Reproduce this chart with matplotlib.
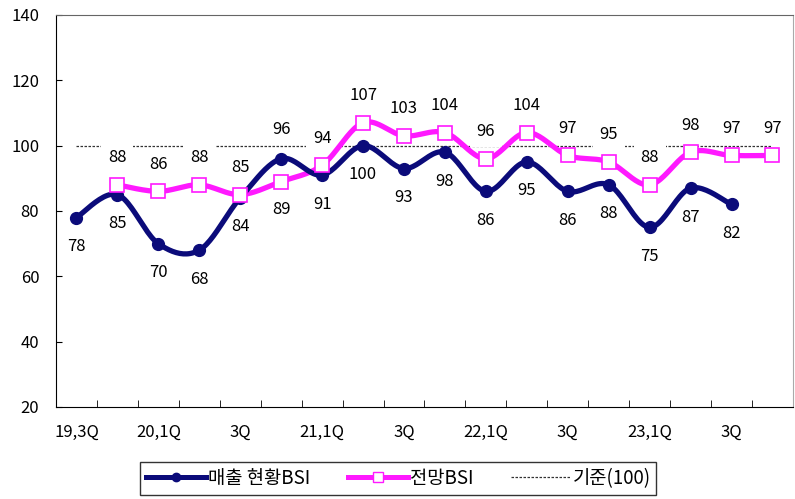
import numpy as np
import matplotlib.pyplot as plt
from matplotlib.lines import Line2D

plt.rcParams['font.family'] = ['Noto Sans CJK KR', 'DejaVu Sans']

quarters = ['19,3Q', '19,4Q', '20,1Q', '20,2Q', '3Q', '20,4Q', '21,1Q', '21,2Q', '3Q',
            '21,4Q', '22,1Q', '22,2Q', '3Q', '22,4Q', '23,1Q', '23,2Q', '3Q', '23,4Q']
sales_bsi = [78, 85, 70, 68, 84, 96, 91, 100, 93, 98, 86, 95, 86, 88, 75, 87, 82]
outlook_bsi = [88, 86, 88, 85, 89, 94, 107, 103, 104, 96, 104, 97, 95, 88, 98, 97, 97]
baseline = 100

sales_x = np.arange(len(sales_bsi))
outlook_x = np.arange(1, 1 + len(outlook_bsi))

NAVY = '#0b0b7a'
PINK = '#ff19ff'


def smooth(x, y, steps=24):
    # bezier curve through every point, control points from the neighbours
    x = np.asarray(x, float)
    y = np.asarray(y, float)
    px = np.concatenate([[x[0]], x, [x[-1]]])
    py = np.concatenate([[y[0]], y, [y[-1]]])
    xs, ys = [], []
    t = np.linspace(0, 1, steps)
    for i in range(1, len(px) - 2):
        p0 = np.array([px[i], py[i]])
        p3 = np.array([px[i + 1], py[i + 1]])
        p1 = p0 + (np.array([px[i + 1], py[i + 1]]) - np.array([px[i - 1], py[i - 1]])) / 6
        p2 = p3 - (np.array([px[i + 2], py[i + 2]]) - np.array([px[i], py[i]])) / 6
        b = ((1 - t) ** 3)[:, None] * p0 + (3 * (1 - t) ** 2 * t)[:, None] * p1 \
            + (3 * (1 - t) * t ** 2)[:, None] * p2 + (t ** 3)[:, None] * p3
        xs.extend(b[:, 0])
        ys.extend(b[:, 1])
    return xs, ys


fig = plt.figure(figsize=(7.95, 4.99), dpi=100)
ax = fig.add_axes([0.0704, 0.1844, 0.927, 0.7856])

ax.plot([0, len(quarters) - 1], [baseline, baseline], color='#333333', lw=0.9,
        dashes=(2, 1.2), zorder=1)

sx, sy = smooth(sales_x, sales_bsi)
ax.plot(sx, sy, color=NAVY, lw=3.8, zorder=3, solid_capstyle='round')
ax.plot(sales_x, sales_bsi, 'o', color=NAVY, ms=8.5, zorder=4)

ox, oy = smooth(outlook_x, outlook_bsi)
ax.plot(ox, oy, color=PINK, lw=3.8, zorder=2, solid_capstyle='round')
ax.plot(outlook_x, outlook_bsi, 's', mfc='white', mec=PINK, mew=1.2, ms=10, zorder=4)

# value labels sit above the reference line but under the series lines
box = dict(boxstyle='square,pad=0.4', fc='white', ec='none')
for x, v in zip(sales_x, sales_bsi):
    dy = 29 if v == 96 else -29
    ax.annotate(str(v), (x, v), xytext=(0, dy), textcoords='offset pixels',
                ha='center', va='center', fontsize=12, bbox=box, zorder=1.5)
for x, v in zip(outlook_x, outlook_bsi):
    dy = -28 if v == 89 else 27
    ax.annotate(str(v), (x, v), xytext=(0, dy), textcoords='offset pixels',
                ha='center', va='center', fontsize=12, bbox=box, zorder=1.5)

ax.set_xlim(-0.5, len(quarters) - 0.5)
ax.set_ylim(20, 140)
ax.set_yticks(range(20, 141, 20))
ax.tick_params(axis='y', direction='in', length=4, labelsize=12, pad=12)

ax.set_xticks(range(0, len(quarters), 2))
ax.set_xticklabels(quarters[::2], fontsize=12)
ax.set_xticks(np.arange(0.5, len(quarters) - 1, 1), minor=True)
ax.tick_params(axis='x', which='major', length=0, pad=12)
ax.tick_params(axis='x', which='minor', direction='in', length=5)

ax.spines['top'].set_color('#666666')
ax.spines['right'].set_color('#aaaaaa')

handles = [
    Line2D([], [], color=NAVY, lw=3.6, marker='o', ms=6),
    Line2D([], [], color=PINK, lw=3.6, marker='s', mfc='white', mec=PINK, ms=7),
    Line2D([], [], color='#333333', lw=0.9, dashes=(2, 1.2)),
]
fig.legend(handles, ['매출 현황BSI', '전망BSI', '기준(100)'], loc='center',
           bbox_to_anchor=(0.501, 0.041), ncol=3, fontsize=13.5, frameon=True,
           fancybox=False, edgecolor='black', handlelength=3.2, handletextpad=0.1,
           columnspacing=2.0, borderpad=0.3, borderaxespad=0)

fig.savefig('out.png', dpi=100)
